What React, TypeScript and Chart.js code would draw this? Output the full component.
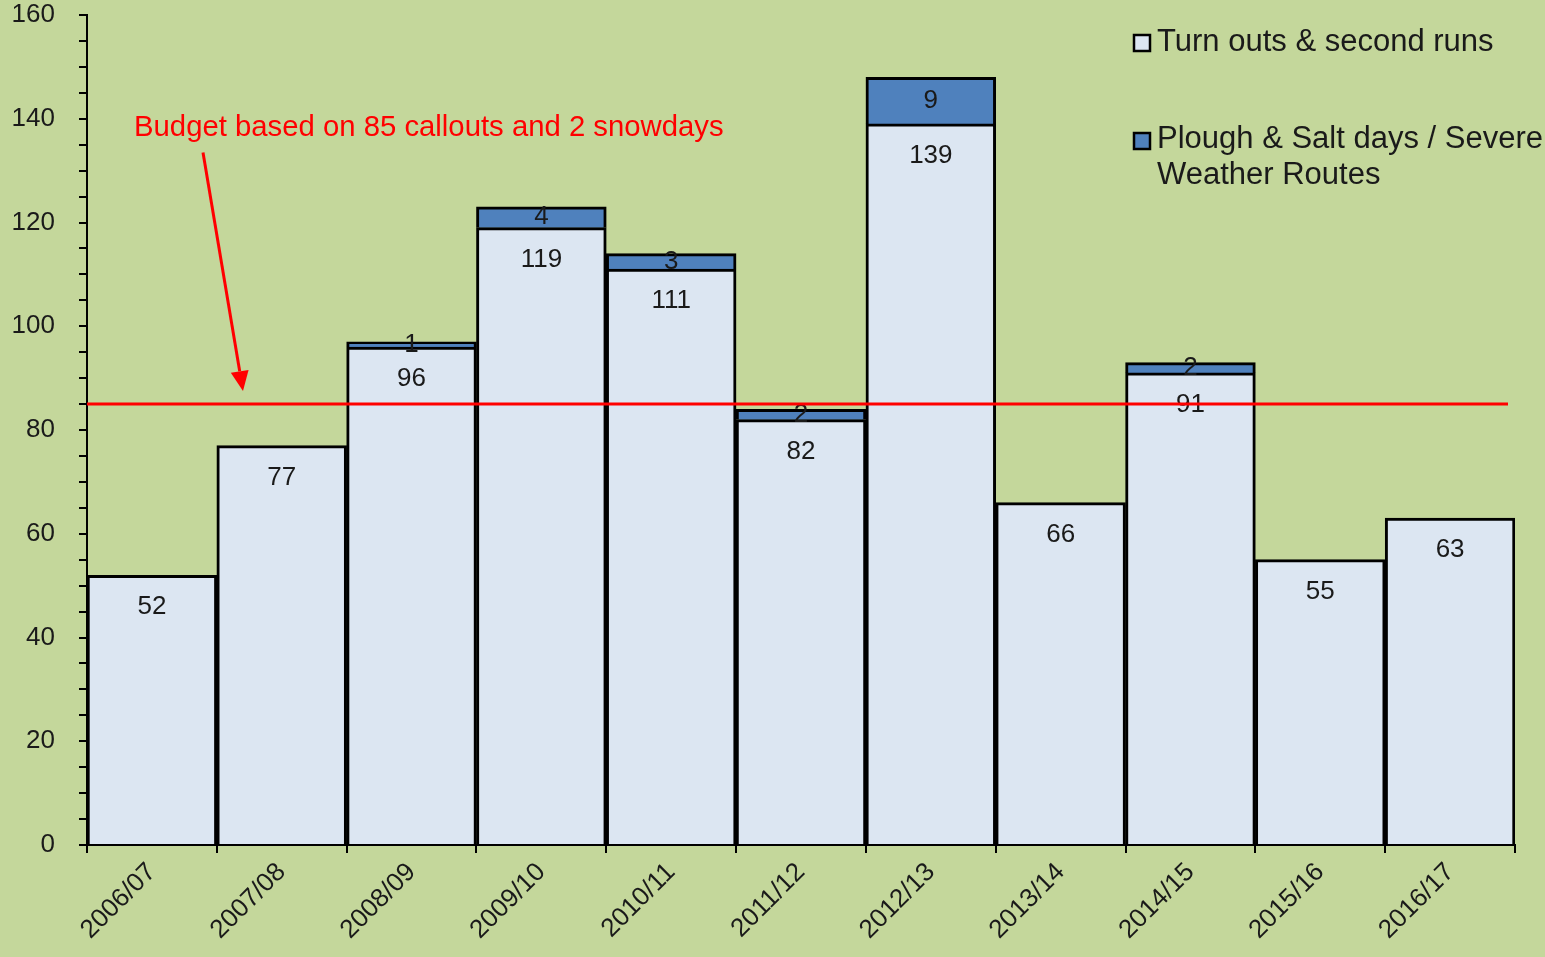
import React, { useEffect, useRef } from "react";
import { Chart, registerables } from "chart.js";

Chart.register(...registerables);

const categories = ["2006/07", "2007/08", "2008/09", "2009/10", "2010/11", "2011/12", "2012/13", "2013/14", "2014/15", "2015/16", "2016/17"];
const turnOuts = [52, 77, 96, 119, 111, 82, 139, 66, 91, 55, 63];
const ploughDays = [null, null, 1, 4, 3, 2, 9, null, 2, null, null];
const budgetValue = 85;
const legendLabels = ["Turn outs & second runs", "Plough & Salt days / Severe|Weather Routes"];
const annotationText = "Budget based on 85 callouts and 2 snowdays";

const FONT = "'Liberation Sans', Arial, sans-serif";
const BG = "#C4D79B";
const LIGHT = "#DCE6F2";
const BLUE = "#4F81BD";

const overlayPlugin = {
  id: "overlay",
  afterDatasetsDraw(chart: any) {
    const ctx = chart.ctx;
    const y = chart.scales.y;
    const area = chart.chartArea;
    ctx.save();
    // data labels
    ctx.font = `26px ${FONT}`;
    ctx.fillStyle = "#1a1a1a";
    ctx.textAlign = "center";
    ctx.textBaseline = "middle";
    const m0 = chart.getDatasetMeta(0);
    m0.data.forEach((bar: any, i: number) => {
      const v = turnOuts[i];
      if (v == null) return;
      ctx.fillText(String(v), bar.x, bar.y + 32);
    });
    const m1 = chart.getDatasetMeta(1);
    m1.data.forEach((bar: any, i: number) => {
      const v = ploughDays[i];
      if (v == null) return;
      ctx.fillText(String(v), bar.x, (bar.y + bar.base) / 2);
    });
    // budget line
    const by = y.getPixelForValue(budgetValue);
    ctx.strokeStyle = "#FF0000";
    ctx.lineWidth = 3;
    ctx.beginPath();
    ctx.moveTo(area.left, by);
    ctx.lineTo(area.right - 7, by);
    ctx.stroke();
    // annotation text
    ctx.fillStyle = "#FF0000";
    ctx.textAlign = "left";
    ctx.font = `29.3px ${FONT}`;
    ctx.fillText(annotationText, 134, y.getPixelForValue(138.2));
    // arrow
    const x1 = 203, y1 = y.getPixelForValue(133.5), x2 = 243, y2 = y.getPixelForValue(87.5);
    const ang = Math.atan2(y2 - y1, x2 - x1);
    const hl = 20, hw = 9;
    const bx = x2 - hl * Math.cos(ang), byy = y2 - hl * Math.sin(ang);
    ctx.lineWidth = 3;
    ctx.beginPath();
    ctx.moveTo(x1, y1);
    ctx.lineTo(bx, byy);
    ctx.stroke();
    ctx.beginPath();
    ctx.moveTo(x2, y2);
    ctx.lineTo(bx + hw * Math.sin(ang), byy - hw * Math.cos(ang));
    ctx.lineTo(bx - hw * Math.sin(ang), byy + hw * Math.cos(ang));
    ctx.closePath();
    ctx.fill();
    // legend
    ctx.font = `31px ${FONT}`;
    ctx.textBaseline = "middle";
    const items = [
      { color: LIGHT, y: 43, ty: 42 },
      { color: BLUE, y: 141, ty: 139 },
    ];
    items.forEach((it, i) => {
      ctx.fillStyle = it.color;
      ctx.fillRect(1134, it.y - 8, 16, 16);
      ctx.strokeStyle = "#000";
      ctx.lineWidth = 2.5;
      ctx.strokeRect(1134, it.y - 8, 16, 16);
      ctx.fillStyle = "#1a1a1a";
      const lines = legendLabels[i].split("|");
      lines.forEach((ln, k) => ctx.fillText(ln, 1157, it.ty + k * 36));
    });
    ctx.restore();
  },
};

export default function App() {
  const ref = useRef<HTMLCanvasElement | null>(null);
  useEffect(() => {
    document.body.style.margin = "0";
    const chart = new Chart(ref.current!, {
      type: "bar",
      data: {
        labels: categories,
        datasets: [
          {
            label: "Turn outs & second runs",
            data: turnOuts,
            backgroundColor: LIGHT,
            borderColor: "#000",
            borderWidth: 3,
            barPercentage: 1,
            categoryPercentage: 1,
          },
          {
            label: "Plough & Salt days / Severe Weather Routes",
            data: ploughDays,
            backgroundColor: BLUE,
            borderColor: "#000",
            borderWidth: 3,
            barPercentage: 1,
            categoryPercentage: 1,
          },
        ],
      },
      options: {
        animation: false,
        responsive: false,
        maintainAspectRatio: false,
        layout: { padding: { top: 0, right: 30, left: 0, bottom: 0 } },
        plugins: { legend: { display: false }, tooltip: { enabled: false } },
        scales: {
          x: {
            stacked: true,
            grid: { drawOnChartArea: false, drawTicks: true, tickLength: 8, color: "#000", lineWidth: 2, offset: true },
            border: { display: true, color: "#000", width: 2 },
            ticks: {
              color: "#1a1a1a",
              font: { family: FONT, size: 26 },
              minRotation: 45,
              maxRotation: 45,
              autoSkip: false,
              padding: 4,
            },
            afterFit(scale: any) {
              scale.height = 112;
              scale.paddingTop = 0;
              scale.paddingBottom = 0;
              scale.paddingLeft = 0;
              scale.paddingRight = 0;
            },
          },
          y: {
            stacked: true,
            min: 0,
            max: 160,
            grid: { drawOnChartArea: false, drawTicks: true, tickLength: 8, color: "#000", lineWidth: 2 },
            border: { display: true, color: "#000", width: 2 },
            ticks: {
              stepSize: 5,
              autoSkip: false,
              color: "#1a1a1a",
              font: { family: FONT, size: 26 },
              padding: 24,
              callback: (v: any) => (Number(v) % 20 === 0 ? String(v) : ""),
            },
            afterFit(scale: any) {
              scale.width = 87;
              scale.paddingTop = 15;
              scale.paddingBottom = 0;
            },
          },
        },
      },
      plugins: [overlayPlugin],
    });
    return () => chart.destroy();
  }, []);
  return (
    <div style={{ position: "fixed", left: 0, top: 0, width: 1545, height: 957, background: BG }}>
      <canvas ref={ref} width={1545} height={957} style={{ width: 1545, height: 957, display: "block" }} />
    </div>
  );
}
